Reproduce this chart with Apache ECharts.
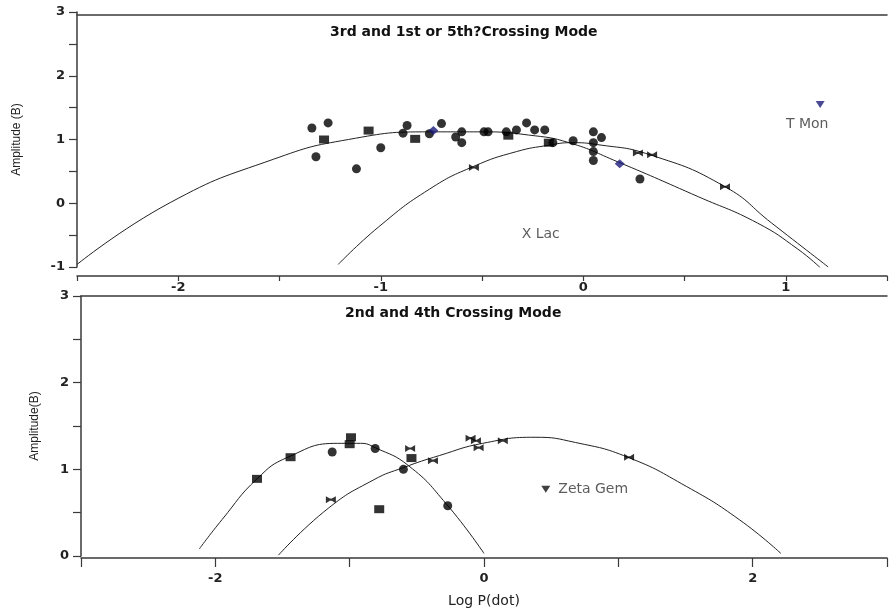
<!DOCTYPE html>
<html><head><meta charset="utf-8">
<script src="https://cdn.jsdelivr.net/npm/echarts@6.0.0/dist/echarts.min.js"></script>
<style>html,body{margin:0;padding:0;background:#fff}#c{width:890px;height:610px}</style>
</head><body><div id="c"></div>
<script>
// ---------- Top panel: 3rd and 1st or 5th? crossing mode ----------
const topTitle = '3rd and 1st or 5th?Crossing Mode';
const topCircles = [[-1.34,1.18],[-1.26,1.26],[-1.32,0.73],[-1.12,0.54],[-1.00,0.87],[-0.89,1.10],[-0.87,1.22],
  [-0.76,1.09],[-0.70,1.25],[-0.63,1.04],[-0.60,0.95],[-0.60,1.12],[-0.49,1.12],[-0.47,1.12],[-0.38,1.12],
  [-0.33,1.15],[-0.28,1.26],[-0.24,1.15],[-0.19,1.15],[-0.15,0.95],[-0.05,0.98],[0.05,1.12],[0.09,1.03],
  [0.05,0.95],[0.05,0.81],[0.05,0.67],[0.28,0.38]];
const topSquares = [[-1.28,1.00],[-1.06,1.14],[-0.83,1.01],[-0.37,1.06],[-0.17,0.95]];
const topStars = [[-0.54,0.56],[0.27,0.79],[0.34,0.76],[0.70,0.26]];
const topBlue = [[-0.74,1.14],[0.18,0.62]];
const tMon = [[1.17,1.55,'T Mon']];
const xLac = [[-0.21,-0.49,'X Lac']];
const topCurveWide = [[-2.50,-0.96],[-2.04,0.01],[-1.53,0.69],[-1.16,1.00],[-0.76,1.12],[-0.50,1.12],
  [-0.27,1.07],[-0.07,0.95],[0.17,0.65],[0.57,0.10],[0.86,-0.31],[1.06,-0.72],[1.17,-1.01]];
const topCurveNarrow = [[-1.21,-0.96],[-1.01,-0.37],[-0.76,0.22],[-0.54,0.58],[-0.33,0.81],[-0.17,0.91],[-0.06,0.95],
  [0.07,0.92],[0.33,0.76],[0.70,0.26],[0.93,-0.31],[1.21,-1.00]];

// ---------- Bottom panel: 2nd and 4th crossing mode ----------
const botTitle = '2nd and 4th Crossing Mode';
const botCircles = [[-1.13,1.20],[-0.81,1.24],[-0.60,1.00],[-0.27,0.58]];
const botSquares = [[-1.69,0.89],[-1.44,1.14],[-1.00,1.29],[-0.99,1.37],[-0.54,1.13],[-0.78,0.54]];
const botStars = [[-1.14,0.65],[-0.55,1.24],[-0.38,1.10],[-0.10,1.36],[-0.06,1.33],[-0.04,1.25],[0.14,1.33],[1.08,1.14]];
const zetaGem = [[0.46,0.77,'Zeta Gem']];
const botCurveA = [[-2.12,0.08],[-1.95,0.42],[-1.69,0.89],[-1.46,1.14],[-1.09,1.30],[-0.92,1.30],[-0.81,1.25],
  [-0.56,1.04],[-0.28,0.60],[0.00,0.03]];
const botCurveB = [[-1.53,0.01],[-1.16,0.55],[-0.82,0.88],[-0.60,1.02],[-0.33,1.16],[-0.01,1.30],[0.38,1.37],
  [0.68,1.31],[1.07,1.14],[1.51,0.80],[1.90,0.42],[2.21,0.03]];

const topXTicks = {min:-2.5, max:1.5, interval:0.5};
const topYTicks = {min:-1, max:3, interval:0.5};
const botXTicks = {min:-3, max:3, interval:1};
const botYTicks = {min:0, max:3, interval:0.5};

const FONT = 'DejaVu Sans';
const AX = '#3a3a3a';
const STAR = 'path://M0,0L4,3.5L6,3.5L10,0L10,10L6,6.5L4,6.5L0,10Z';

const chart = echarts.init(document.getElementById('c'), null, {renderer:'canvas'});
const lbl = {color:'#222', fontFamily:FONT, fontSize:13};
function intOnly(v){ return Math.abs(v - Math.round(v)) < 1e-9 ? String(v) : ''; }

function line(data, xi, yi){
  return {type:'line', data, xAxisIndex:xi, yAxisIndex:yi, smooth:0.5, showSymbol:false, silent:true,
    lineStyle:{color:'#222', width:1}, z:2};
}
function pts(data, xi, yi, symbol, size, color, extra){
  return Object.assign({type:'scatter', data, xAxisIndex:xi, yAxisIndex:yi, symbol, symbolSize:size,
    itemStyle:{color}, z:3}, extra||{});
}

chart.setOption({
  animation:false,
  backgroundColor:'#fff',
  grid:[
    {left:77, top:12, right:0, height:255, containLabel:false},
    {left:81, top:296, right:-5, height:260, containLabel:false}
  ],
  xAxis:[
    {gridIndex:0, type:'value', ...topXTicks, offset:9, position:'bottom',
      axisLine:{show:true, onZero:false, lineStyle:{color:AX, width:1.5}},
      axisTick:{show:true, inside:false, length:5, lineStyle:{color:AX, width:1.2}},
      axisLabel:Object.assign({formatter:intOnly, margin:5, fontWeight:'bold'}, lbl), splitLine:{show:false}},
    {gridIndex:0, type:'value', ...topXTicks, position:'top', offset:-3,
      axisLine:{show:true, onZero:false, lineStyle:{color:AX, width:1.5}},
      axisTick:{show:false}, axisLabel:{show:false}, splitLine:{show:false}},
    {gridIndex:1, type:'value', ...botXTicks, offset:2, position:'bottom',
      axisLine:{show:true, onZero:false, lineStyle:{color:AX, width:1.5}},
      axisTick:{show:true, length:9, lineStyle:{color:AX, width:1.2}},
      axisLabel:Object.assign({formatter:v => (Math.round(v)%2===0 ? String(v) : ''), margin:14, fontWeight:'bold'}, lbl),
      splitLine:{show:false},
      name:'Log P(dot)', nameLocation:'middle', nameGap:36,
      nameTextStyle:{color:'#222', fontFamily:FONT, fontSize:14}},
    {gridIndex:1, type:'value', ...botXTicks, position:'top',
      axisLine:{show:true, onZero:false, lineStyle:{color:AX, width:1.5}},
      axisTick:{show:false}, axisLabel:{show:false}, splitLine:{show:false}}
  ],
  yAxis:[
    {gridIndex:0, type:'value', ...topYTicks,
      axisLine:{show:true, onZero:false, lineStyle:{color:AX, width:1.5}},
      axisTick:{show:true, length:8, lineStyle:{color:AX, width:1.2}},
      axisLabel:Object.assign({formatter:intOnly, margin:12, fontWeight:'bold'}, lbl), splitLine:{show:false},
      name:'Amplitude (B)', nameLocation:'middle', nameGap:54,
      nameTextStyle:{color:'#222', fontFamily:'Liberation Sans Narrow, Liberation Sans', fontSize:12}},
    {gridIndex:1, type:'value', ...botYTicks,
      axisLine:{show:true, onZero:false, lineStyle:{color:AX, width:1.5}},
      axisTick:{show:true, length:8, lineStyle:{color:AX, width:1.2}},
      axisLabel:Object.assign({formatter:intOnly, margin:12, fontWeight:'bold'}, lbl), splitLine:{show:false},
      name:'Amplitude(B)', nameLocation:'middle', nameGap:40,
      nameTextStyle:{color:'#222', fontFamily:'Liberation Sans Narrow, Liberation Sans', fontSize:12}}
  ],
  graphic:[
    {type:'text', left:495 - 165, top:25, style:{text:topTitle, fill:'#111', font:'bold 14px "DejaVu Sans"'}},
    {type:'text', left:465 - 120, top:306, style:{text:botTitle, fill:'#111', font:'bold 14px "DejaVu Sans"'}}
  ],
  series:[
    line(topCurveWide,0,0), line(topCurveNarrow,0,0),
    pts(topCircles,0,0,'circle',9,'#000'),
    pts(topSquares,0,0,'rect',[10,8],'#000'),
    pts(topStars,0,0,STAR,[10,7],'#000'),
    pts(topBlue,0,0,'diamond',[10,9],'#1c1c7a'),
    pts(tMon,0,0,'triangle',[9,7],'#1c1c7a',{symbolRotate:180,
      label:{show:true, formatter:p=>p.data[2], position:'bottom', offset:[-13,4], color:'#333', fontFamily:FONT, fontSize:14}}),
    pts(xLac,0,0,'circle',0,'transparent',{
      label:{show:true, formatter:p=>p.data[2], position:'inside', color:'#333', fontFamily:FONT, fontSize:14}}),
    line(botCurveA,2,1), line(botCurveB,2,1),
    pts(botCircles,2,1,'circle',9,'#000'),
    pts(botSquares,2,1,'rect',[10,8],'#000'),
    pts(botStars,2,1,STAR,[10,7],'#000'),
    pts(zetaGem,2,1,'triangle',[9,7],'#111',{symbolRotate:180,
      label:{show:true, formatter:p=>p.data[2], position:'right', distance:8, color:'#333', fontFamily:FONT, fontSize:14}})
  ]
});
</script></body></html>
